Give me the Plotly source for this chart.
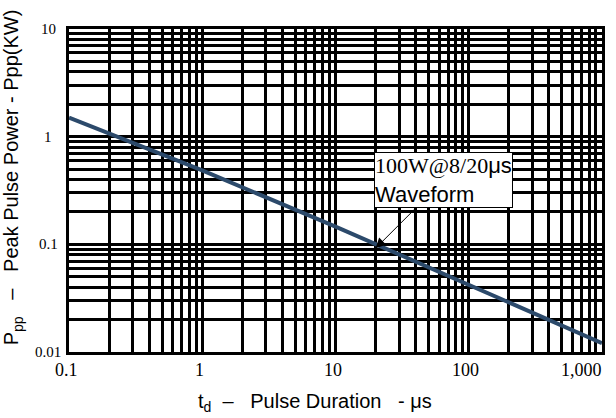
import math
import plotly.graph_objects as go

# ---- data ----
pulse_us = [0.1, 1, 10, 100, 1000]
power_kw = [1.50, 0.486, 0.146, 0.0423, 0.0121]

x_decades = [0.1, 1, 10, 100, 1000]
x_decade_labels = ["0.1", "1", "10", "100", "1,000"]
y_decades = [0.01, 0.1, 1, 10]
y_decade_labels = ["0.01", "0.1", "1", "10"]

marker_point = (20, 0.092)  # 8/20us point pointed by the callout

# ---- layout constants ----
W, H = 616, 418
L, R, T, B = 69, 11, 29, 66
PW, PH = W - L - R, H - T - B


def log_grid(decades):
    vals = []
    for i, d in enumerate(decades):
        if i == len(decades) - 1:
            vals.append(d)
            break
        for k in range(1, 10):
            vals.append(d * k)
    return vals


xv = log_grid(x_decades)
yv = log_grid(y_decades)

fig = go.Figure()
fig.add_trace(go.Scatter(
    x=pulse_us, y=power_kw, mode="lines",
    line=dict(color="#2C4A6B", width=4),
    showlegend=False, hoverinfo="skip",
))

axis_common = dict(
    type="log", ticks="", showticklabels=False,
    showgrid=True, gridcolor="black", gridwidth=2.5,
    showline=True, linecolor="black", linewidth=2.5, mirror=True,
    zeroline=False,
)
fig.update_layout(
    width=W, height=H,
    margin=dict(l=L, r=R, t=T, b=B),
    paper_bgcolor="white", plot_bgcolor="white",
    xaxis=dict(range=[-1, 3], tickvals=xv, **axis_common),
    yaxis=dict(range=[-2, 1], tickvals=yv, **axis_common),
)

# x tick labels (serif, as in the reference)
for i, (v, lab) in enumerate(zip(x_decades, x_decade_labels)):
    last = i == len(x_decades) - 1
    fig.add_annotation(
        x=math.log10(v), xref="x", y=-(370 - (T + PH)) / PH, yref="paper",
        text=lab, showarrow=False,
        xanchor="right" if last else "center", yanchor="middle",
        xshift=2 if last else -3,
        font=dict(family="Liberation Serif", size=18, color="black"),
    )

# y tick labels
for v, lab in zip(y_decades, y_decade_labels):
    fig.add_annotation(
        x=-(L - 48) / PW, xref="paper", y=math.log10(v), yref="y",
        text=lab, showarrow=False, xanchor="center", yanchor="middle",
        font=dict(family="Liberation Serif", size=15, color="black"),
    )

# callout
fig.add_annotation(
    x=math.log10(marker_point[0]), y=math.log10(marker_point[1]),
    xref="x", yref="y",
    text='<span style="font-family:Liberation Serif">100W@8/20</span>μs<br>Waveform',
    align="left",
    font=dict(family="Liberation Sans", size=22, color="black"),
    showarrow=True, arrowhead=2, arrowsize=2, arrowwidth=1, arrowcolor="black",
    ax=68, ay=-68,
    bgcolor="white", bordercolor="black", borderwidth=1, borderpad=0,
)

# axis titles
fig.add_annotation(
    xref="paper", yref="paper", x=(316 - L) / PW, y=-(402 - (T + PH)) / PH,
    text="t<sub>d</sub>  –   Pulse Duration   - μs",
    showarrow=False, xanchor="center", yanchor="middle",
    font=dict(family="Liberation Sans", size=20, color="black"),
)
fig.add_annotation(
    xref="paper", yref="paper", x=-(L - 12) / PW, y=((T + PH) - 177) / PH,
    text="P<sub>pp</sub>   –   Peak Pulse Power - Ppp(KW)",
    textangle=-90, showarrow=False, xanchor="center", yanchor="middle",
    font=dict(family="Liberation Sans", size=20, color="black"),
)

fig.write_html("out.html")
